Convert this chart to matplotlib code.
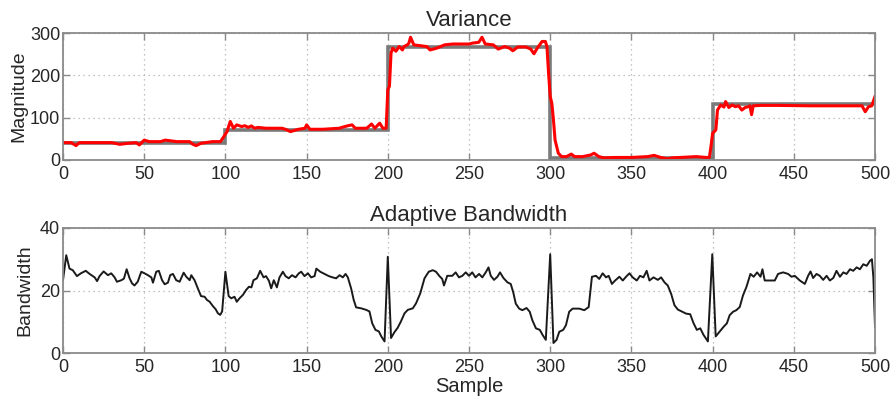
import matplotlib
matplotlib.use("Agg")
import matplotlib.pyplot as plt

plt.rcParams['font.family'] = ['Liberation Sans', 'DejaVu Sans']

# ---- Data ----
# True variance (step levels) between segment edges
seg_edges = [0, 100, 200, 300, 400, 500]
seg_levels = [40, 72, 268, 5, 133]

# Estimated variance (red)
var_x = [0, 5, 8, 10, 20, 30, 35, 40, 45, 47, 50, 53, 60, 63, 70, 78, 80, 82, 85, 92, 97,
         99, 101, 103, 105, 107, 110, 112, 114, 116, 118, 120, 125, 135, 138, 140, 145, 149,
         150, 152, 160, 170, 175, 178, 180, 187, 190, 192, 195, 197, 199,
         200, 201, 202, 203, 205, 207, 209, 210, 212, 213, 214, 216, 220, 224, 226, 230,
         235, 240, 245, 250, 252, 256, 258, 260, 265, 268, 272, 275, 277, 280, 285, 288,
         290, 292, 295, 297, 298, 299, 300, 301, 302, 303, 305, 307, 310, 313, 315, 320,
         325, 327, 330, 333, 340, 350, 360, 364, 368, 372, 375, 380, 390, 396, 398,
         399, 400, 402, 403, 405, 407, 408, 410, 412, 414, 416, 418, 420, 422, 423, 424,
         425, 430, 440, 460, 480, 492, 494, 496, 498, 500]
var_y = [41, 41, 34, 41, 41, 41, 37, 39.5, 41, 35.5, 47, 43.4, 43.4, 47, 43.4, 43.4, 37, 34,
         39.5, 43.4, 43.4,
         55, 67, 91, 75, 83, 79, 81, 77, 80.5, 75, 77, 75, 75, 71, 67, 72.6, 75,
         83, 72.6, 72.6, 75, 80.5, 83, 75, 75, 85, 75, 87, 75, 75,
         166, 174, 253, 264, 257, 268, 260, 268, 272, 276, 290, 272, 270, 268, 260, 264,
         272, 274, 274, 274, 276, 278, 290, 274, 272, 262, 268, 264, 258, 267, 267, 262,
         251, 264, 280, 280, 268, 205, 150, 134, 95, 47, 16, 8, 8, 14, 8, 8,
         12, 16, 8, 5, 6, 6, 8, 11, 6, 3, 5, 6, 8, 6, 6,
         32, 63, 71, 118, 130, 125, 138, 124, 130, 126, 128, 118, 124, 126, 128, 107,
         128, 129, 129, 128, 128, 128, 114, 126, 128, 150]

# Adaptive bandwidth (black)
bw_x = [0, 2, 4, 6, 8.6, 11, 14, 16.4, 19.5, 21, 22.5, 25, 27.7, 29.7, 31.8, 33.2, 36, 37.5,
        39.2, 41, 42.5, 44, 46, 48.2, 50.2, 52.3, 54.4, 55.4, 57.4, 59, 61, 62.6, 64.6, 66,
        67.7, 69.7, 71.8, 74.3, 75.9, 78, 79, 81, 83, 85, 87.2, 88.6, 90.3, 92.3, 94, 95.4,
        96.8, 98, 100, 102, 103.6, 105.6, 107, 108.7, 110.8, 112.8, 114.5, 116, 117.3, 119.4,
        121.4, 123.5, 125, 126.8, 128.2, 129.8, 131.7, 133.3, 135.4, 137, 139, 141, 143.2,
        145.2, 146.7, 148.7, 150.8, 152.8, 154.9, 156, 158.4, 161, 163.7, 166, 168.2, 170.3,
        172.3, 174, 175.4, 177.4, 179, 180.5, 183.6, 186.7, 188.7, 190.4, 192.4, 194.5, 196,
        198, 200, 202, 204, 206, 208, 210.3, 212.3, 215.4, 217.4, 220, 222.6, 225.2, 227.7,
        229.7, 231.8, 233.5, 234.6, 236.6, 239.7, 241.8, 243.8, 245.9, 248, 250, 252, 254,
        256.2, 258.2, 260.3, 262, 263.4, 265.4, 267.5, 269.1, 271.2, 273.7, 275.7, 277.2,
        278.8, 280.9, 282.9, 285.4, 287.4, 289, 291.2, 293.6, 295.3, 297.3, 300, 302, 303.9,
        305.6, 308, 309.7, 311.7, 313.8, 317.9, 321, 323.7, 325.7, 328.2, 330.2, 332.3,
        334.4, 336, 338, 340, 342.6, 344.7, 346.7, 348.8, 350.8, 353.3, 355.3, 357.4, 359.4,
        361.1, 363.6, 366.3, 368.3, 370.4, 372.4, 374.5, 376.5, 378.6, 381.3, 383.7, 386.2,
        388.3, 390.3, 392.4, 394.4, 397.1, 399.8, 401.9, 404.3, 406.8, 408.8, 410.5, 412.6,
        414.6, 416.7, 418.7, 420.8, 423.3, 425.3, 427.4, 429.5, 430.7, 432.1, 435.2, 438.3,
        440.3, 443.4, 446.5, 448.6, 450.6, 453.7, 456.8, 458.8, 460.3, 461.9, 464, 466,
        468.1, 470.2, 472.2, 474.3, 476.3, 478.4, 480.5, 482.5, 484.6, 486.6, 488.7, 490.7,
        492.8, 494.9, 496.9, 498.1, 499, 500]
bw_y = [23.3, 31.3, 27, 26.5, 24.6, 25.5, 26.3, 25.3, 24.2, 23, 24.6, 26.1, 24.9, 25.5, 24.2,
        22.8, 23.3, 23.8, 26.8, 23.9, 22.3, 21.6, 22.8, 26, 25.5, 24.9, 24.2, 22.5, 26, 26.3,
        23.3, 22, 22.5, 24.9, 25.3, 23.3, 22.8, 25.7, 24.4, 23.3, 24.9, 23.3, 20.7, 18.2, 18,
        17, 16.4, 15, 14, 12.7, 12.2, 13.3, 26, 18.2, 17.5, 18, 16.4, 17.5, 18.6, 20.2, 21.2,
        21, 23.3, 23.9, 26.3, 24.2, 24.6, 23.1, 20.7, 23.3, 21, 24.2, 26, 24.6, 23.9, 24.9,
        24.2, 25.5, 26, 24.6, 25.5, 24.2, 24.6, 27, 26, 25.3, 24.6, 24.2, 23.9, 24.9, 24.2,
        25.3, 24.2, 20.7, 17, 14.6, 14.3, 13.8, 13.3, 9.5, 7.4, 6.9, 5.3, 3.7, 30.8, 4.8, 6.6,
        8, 10, 12.7, 13.8, 14.3, 15.9, 19.1, 23.9, 26, 26.5, 26, 24.6, 23.7, 21.6, 24.7, 24.7,
        25.8, 24.2, 24.7, 25.8, 24.7, 25.8, 24.2, 25.3, 24.2, 25.8, 27.4, 24.7, 23.4, 24.4,
        25.8, 24, 22.6, 22.1, 19.5, 15.8, 14.2, 13.7, 14.4, 13.2, 10.5, 7.9, 7.4, 5.8, 4.2,
        31.6, 3.2, 4.2, 6.8, 7.4, 8.9, 13.2, 14.2, 14.2, 13.7, 14.7, 24.4, 24.7, 23.7, 25.5,
        24.2, 24.7, 22.1, 23.2, 24.4, 23.2, 24.4, 25.5, 24.2, 23.2, 24.7, 24.2, 26.3, 23.2,
        24.2, 23.4, 24.2, 22.6, 21.6, 18.9, 15.3, 13.9, 13.2, 12.6, 12.4, 9.5, 7.4, 7.9, 5.8,
        3.7, 31.6, 5.3, 6.8, 8.4, 9.5, 12.1, 13.2, 13.7, 14.7, 18.4, 21.1, 25.3, 24.4, 25.8,
        24.4, 26.8, 23.2, 23.2, 23.2, 25.3, 25.8, 25.3, 24.4, 24.7, 23.2, 22.1, 24.7, 26.1,
        24, 25.3, 24.7, 23.4, 24.7, 23.2, 24, 26.3, 24.4, 25.8, 25.3, 26.8, 26.3, 27.4, 26.8,
        28.4, 27.9, 29.5, 30, 24.2, 8.4]

x_ticks = [0, 50, 100, 150, 200, 250, 300, 350, 400, 450, 500]
var_yticks = [0, 100, 200, 300]
bw_yticks = [0, 20, 40]

# ---- Figure ----
W, H = 892, 399
fig = plt.figure(figsize=(W / 100, H / 100), dpi=100)

def axrect(l, t, r, b):
    return [l / W, 1 - b / H, (r - l) / W, (b - t) / H]

ax1 = fig.add_axes(axrect(63, 33, 875, 160))
ax2 = fig.add_axes(axrect(63, 228, 875, 353))

text_c = '#262626'
frame_c = '#8a8a8a'

def style(ax, yticks):
    ax.set_xlim(0, 500)
    ax.set_xticks(x_ticks)
    ax.set_yticks(yticks)
    ax.set_ylim(yticks[0], yticks[-1])
    ax.grid(True, linestyle=(0, (1, 3)), color='#b0b0b0', linewidth=0.9)
    ax.set_axisbelow(True)
    for s in ax.spines.values():
        s.set_color(frame_c)
        s.set_linewidth(1.3)
    ax.tick_params(direction='in', top=True, right=True, length=5, width=1.0,
                   color=frame_c, labelsize=13, labelcolor=text_c)
    ax.tick_params(axis='x', pad=4)
    ax.tick_params(axis='y', pad=2)

style(ax1, var_yticks)
style(ax2, bw_yticks)

ax1.stairs(seg_levels, seg_edges, baseline=None, color='#7a7a7a', linewidth=2.6)
ax1.plot(var_x, var_y, color='#ff0000', linewidth=2.2)

ax2.plot(bw_x, bw_y, color='#1a1a1a', linewidth=1.4)

ax1.set_title('Variance', fontsize=16, color=text_c, pad=5)
ax2.set_title('Adaptive Bandwidth', fontsize=16, color=text_c, pad=5)
ax1.set_ylabel('Magnitude', fontsize=14, color=text_c)
ax2.set_ylabel('Bandwidth', fontsize=14, color=text_c)
ax1.yaxis.set_label_coords(-0.044, 0.5)
ax2.yaxis.set_label_coords(-0.036, 0.5)
ax2.set_xlabel('Sample', fontsize=14.5, color=text_c, labelpad=1)

fig.savefig('out.png', dpi=100)
